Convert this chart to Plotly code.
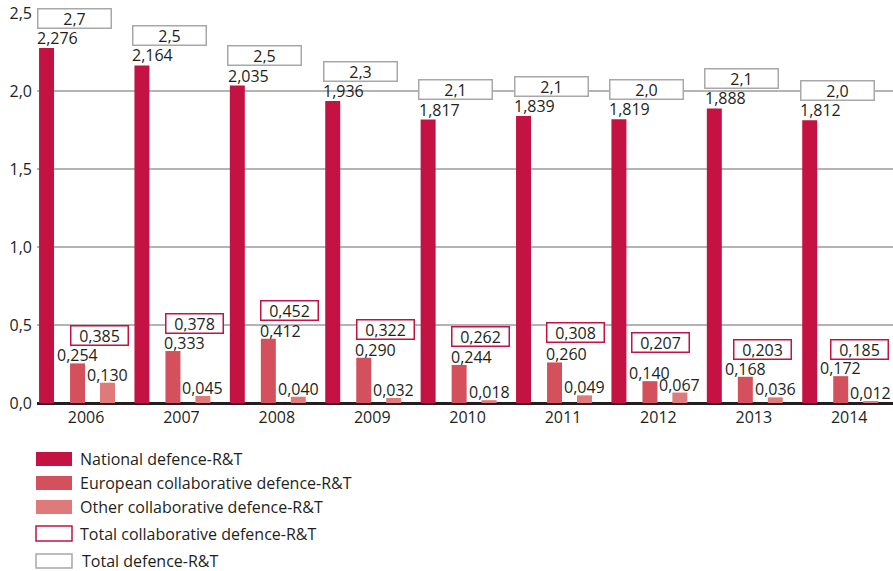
import plotly.graph_objects as go

years = ["2006", "2007", "2008", "2009", "2010", "2011", "2012", "2013", "2014"]
national = [2.276, 2.164, 2.035, 1.936, 1.817, 1.839, 1.819, 1.888, 1.812]
european = [0.254, 0.333, 0.412, 0.290, 0.244, 0.260, 0.140, 0.168, 0.172]
other = [0.130, 0.045, 0.040, 0.032, 0.018, 0.049, 0.067, 0.036, 0.012]
total_collab = [0.385, 0.378, 0.452, 0.322, 0.262, 0.308, 0.207, 0.203, 0.185]
total = [2.7, 2.5, 2.5, 2.3, 2.1, 2.1, 2.0, 2.1, 2.0]
y_ticks = [0.0, 0.5, 1.0, 1.5, 2.0, 2.5]

# layout-only placement choices for labels (not data)
EUR_LABEL_ANCHOR = ["center", "left", "left", "left", "left", "left", "center", "center", "center"]
COLLAB_BOX_LIFT = [0.18, 0.175, 0.18, 0.18, 0.18, 0.19, 0.245, 0.175, 0.17]
COLLAB_BOX_DX = [0.136, 0.136, 0.136, 0.136, 0.136, 0.136, 0.02, 0.095, 0.105]

C_NAT = "#c41342"
C_EUR = "#d4505d"
C_OTH = "#df7a7a"
C_GRAY = "#a8a8a8"
TXT = "#231f20"
FONT = "Open Sans"
FS = 16

W = 893
H = 571
ML, MR, MT, MB = 37, 0, 13, 168
PW = W - ML - MR
PH = H - MT - MB

BW = 0.157
NAT_C, EUR_C, OTH_C = -0.414, -0.089, 0.225


def fmt(v, d):
    return f"{v:.{d}f}".replace(".", ",")


fig = go.Figure()
for name, vals, col, c in [
    ("National defence-R&T", national, C_NAT, NAT_C),
    ("European collaborative defence-R&T", european, C_EUR, EUR_C),
    ("Other collaborative defence-R&T", other, C_OTH, OTH_C),
]:
    fig.add_trace(go.Bar(x=years, y=vals, name=name, marker_color=col,
                         marker_line_width=0, width=BW, offset=c - BW / 2,
                         showlegend=False, hoverinfo="skip"))

ann = []
for i, y in enumerate(years):
    ann.append(dict(x=i + NAT_C - BW / 2, y=national[i], text=fmt(national[i], 3),
                    xanchor="left", yanchor="bottom", xshift=-4, yshift=-3,
                    showarrow=False))
    if EUR_LABEL_ANCHOR[i] == "left":
        ann.append(dict(x=i + EUR_C - BW / 2, y=european[i], text=fmt(european[i], 3),
                        xanchor="left", yanchor="bottom", xshift=-3, yshift=-5,
                        showarrow=False))
    else:
        ann.append(dict(x=i + EUR_C, y=european[i], text=fmt(european[i], 3),
                        xanchor="center", yanchor="bottom", yshift=-5, showarrow=False))
    ann.append(dict(x=i + OTH_C, y=other[i], text=fmt(other[i], 3),
                    xanchor="center", yanchor="bottom", yshift=-5, showarrow=False))
    ann.append(dict(x=i - 0.125, y=national[i] + 0.19, text=fmt(total[i], 1),
                    xanchor="center", yanchor="middle", showarrow=False,
                    width=70, height=16, bgcolor="white", bordercolor=C_GRAY,
                    borderwidth=1.5, borderpad=1))
    ann.append(dict(x=i + COLLAB_BOX_DX[i], y=european[i] + COLLAB_BOX_LIFT[i],
                    text=fmt(total_collab[i], 3),
                    xanchor="center", yanchor="middle", showarrow=False,
                    width=54, height=16, bgcolor="white", bordercolor=C_NAT,
                    borderwidth=1.5, borderpad=1))
for a in ann:
    a["font"] = dict(family=FONT, size=FS, color=TXT)


def px(xp):
    return (xp - ML) / PW


def py(yp):
    return (H - MB - yp) / PH


shapes = []
legend = [
    ("National defence-R&T", 452, 466, C_NAT, None, 78),
    ("European collaborative defence-R&T", 476, 490, C_EUR, None, 78),
    ("Other collaborative defence-R&T", 500, 514, C_OTH, None, 78),
    ("Total collaborative defence-R&T", 526, 541, "white", C_NAT, 78),
    ("Total defence-R&T", 554, 568, "white", C_GRAY, 80),
]
for text, y0, y1, fill, line, tx in legend:
    shapes.append(dict(type="rect", xref="paper", yref="paper",
                       x0=px(36), x1=px(72), y0=py(y1), y1=py(y0),
                       fillcolor=fill,
                       line=dict(color=line if line else fill, width=1.5 if line else 0)))
    ann.append(dict(xref="paper", yref="paper", x=px(tx), y=py((y0 + y1) / 2),
                    text=text, xanchor="left", yanchor="middle", showarrow=False,
                    font=dict(family=FONT, size=FS, color=TXT)))

fig.update_layout(
    width=W, height=H,
    margin=dict(l=ML, r=MR, t=MT, b=MB, pad=0),
    paper_bgcolor="white", plot_bgcolor="white",
    barmode="overlay",
    annotations=ann, shapes=shapes,
    font=dict(family=FONT, size=FS, color=TXT),
    xaxis=dict(type="category", range=[-0.514, 8.459], showgrid=False,
               ticks="", showline=False, zeroline=False, ticklabelstandoff=3,
               tickfont=dict(family=FONT, size=FS, color=TXT)),
    yaxis=dict(range=[0, 2.5], tickvals=y_ticks,
               ticktext=[fmt(v, 1) for v in y_ticks],
               showgrid=True, gridcolor="#b4b4b4", gridwidth=1.5,
               zeroline=True, zerolinecolor=TXT, zerolinewidth=2.5,
               showline=False, ticks="", ticklabelstandoff=4,
               tickfont=dict(family=FONT, size=FS, color=TXT)),
)

fig.write_html("out.html", config={"displayModeBar": False},
               post_script="document.body.style.margin='0px';document.body.style.overflow='hidden';")
